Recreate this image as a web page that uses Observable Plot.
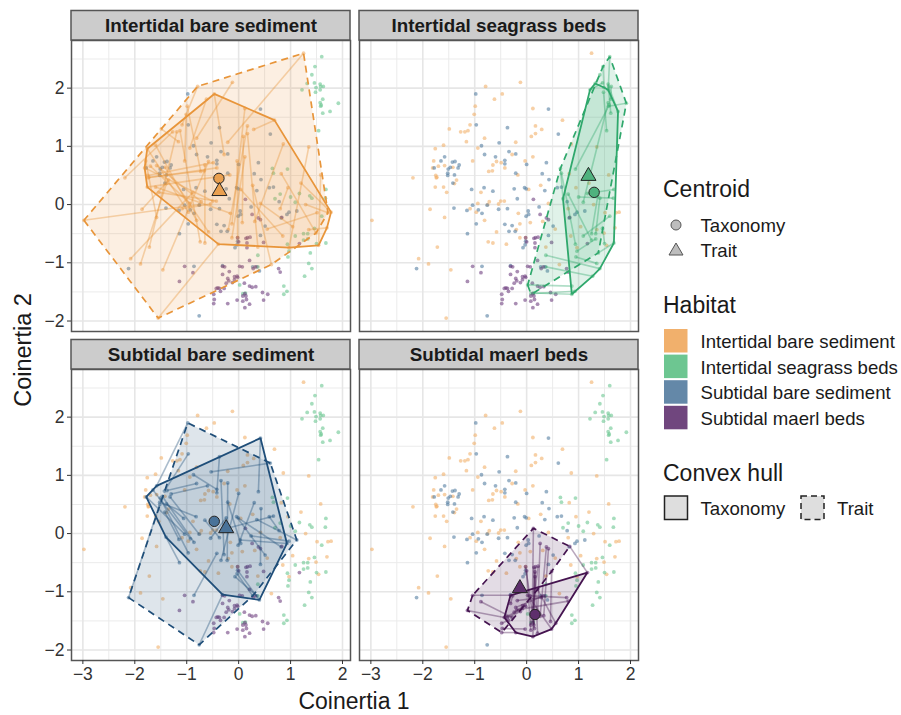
<!DOCTYPE html>
<html>
<head>
<meta charset="utf-8">
<script src="https://cdn.jsdelivr.net/npm/d3@7"></script>
<script src="https://cdn.jsdelivr.net/npm/@observablehq/plot@0.6"></script>
<style>
html,body{margin:0;padding:0;background:#fff;}
#wrap{position:relative;width:901px;height:715px;font-family:"Liberation Sans",Arial,sans-serif;overflow:hidden;}
#wrap>svg{position:absolute;left:0;top:0;}
</style>
</head>
<body>
<div id="wrap"></div>
<script>
const habitatNames = ["Intertidal bare sediment","Intertidal seagrass beds","Subtidal bare sediment","Subtidal maerl beds"];
const lineColors = ["#E8953A","#2FA86C","#1F4E79","#451450"];
const dotColors = ["#F2AE66","#66C48E","#4F7A9E","#6B3A7C"];
const swatchColors = ["#F1B06C","#6DC691","#6488A8","#70467E"];
const centroidColors = ["#EAA050","#4FB27E","#4A7399","#5E2F6C"];
const xTicks = [-3,-2,-1,0,1,2];
const yTicks = [-2,-1,0,1,2];
const xMinor = [-2.5,-1.5,-0.5,0.5,1.5];
const yMinor = [-1.5,-0.5,0.5,1.5,2.5];

const bareTrait = [[-2.98,-.27],[-.79,2.03],[1.25,2.60],[1.72,-.14],[.63,-1.03],[-1.55,-1.95],[-.12,2.10],[-.62,1.81],[-.28,.86],[-.99,1.69],[-1.01,1.55],[-1.49,1.30],[-2.19,.46],[-1.86,-.08],[-1.58,-.22],[-1.72,-.73],[-2.08,-.93],[-1.89,-1.02],[-1.46,-1.12],[-.74,-.64],[-.65,-.66],[.37,-.73],[1.35,.99],[1.58,.51],[-.50,.06],[-.97,-.13],[-.43,.06],[-.54,.01],[.29,1.29],[1.20,.37],[1.35,-.43],[-.81,-.27],[-.94,.02],[-.72,.05],[-.58,-.47],[-.49,.72],[-.66,.58],[-.42,.63],[-.17,.51],[-.16,-.15],[-.13,-.33],[-.20,-.43],[.07,-.31],[.31,-.29],[-.13,-.57],[-.02,-.57],[.85,-.54],[1.04,-.38],[.8,-.07],[1.49,-.49],[.55,-.42]];
const bareTaxon = [[-.75,0],[-1.09,1.37],[-.21,1.07],[1.29,0],[.27,.33],[-.39,-.68],[-.81,1.14],[-.94,.97],[-.47,1.90],[-.73,.57],[-1.04,.75],[-1.16,1.08],[-1.27,1.25],[-1.35,.42],[-1.79,.75],[-1.19,1.25],[-.88,.21],[-1.39,.36],[-.58,.74],[-1.13,1.27],[-.65,.68],[.17,1.22],[.97,-.74],[1.54,-.70],[-1.81,.63],[-1.76,.96],[-1.54,.21],[-1.09,-.07],[.69,1.45],[1.78,-.13],[1.70,-.40],[-1.60,1.02],[-1.70,.66],[-1.58,.67],[-1.42,.64],[-1.75,.50],[-1.73,.47],[-1.74,.46],[-1.76,.30],[-1.60,.30],[.12,1.65],[.17,1.35],[.09,1.17],[.86,1.04],[.12,.82],[-.03,.75],[.04,.26],[.42,.02],[.95,.29],[.82,.53],[1.51,-.14]];

const grassTrait = [[1.60,2.54],[1.92,1.74],[1.47,2.37],[1.41,2.23],[1.46,2.09],[1.48,1.93],[1.57,2.07],[1.58,2.03],[1.63,2.03],[1.57,1.75],[1.59,1.71],[.65,.62],[.67,.54],[.13,-1.52],[.02,-1.38],[.08,-1.53],[.37,-.87],[.37,-1.07],[1.38,-.83],[.95,-.9],[1.17,.19],[1.00,.13],[1.37,.15],[1.41,.11],[.8,.18],[.97,-.80],[1.09,-.54],[1.46,-.41]];
const grassTaxon = [[1.57,1.97],[1.58,1.69],[1.49,2.01],[1.32,2.08],[1.22,1.97],[1.54,1.27],[1.62,1.57],[1.76,1.60],[1.62,1.81],[1.09,.04],[.94,.61],[.70,.10],[.94,-.68],[.87,-1.54],[.87,-1.4],[.93,-1.49],[1.41,-1.10],[1.27,-1.23],[1.68,-.66],[1.35,-1.01],[1.68,.26],[1.67,.11],[1.25,-.5],[1.33,-.5],[1.25,-.61],[1.33,-.59],[1.60,-.2],[1.5,-.67]];

const subTrait = [[-.98,1.90],[-.97,1.37],[-2.12,-1.10],[-.76,-1.91],[.61,1.21],[.38,.72],[-1.14,-.50],[1.12,-.11],[-.86,-1.06],[-.02,-.63],[.27,-1.07],[-.07,-.74],[-1.04,-.01],[-.93,-.09],[-.86,-.15],[-.97,-.33],[-.76,-.01],[-.82,.29],[-1.06,.26],[-1.15,-.10],[.97,-.13],[.03,-.11],[-.37,1.32],[-.81,.86],[-.87,1.01],[-.60,.82],[-.34,.91],[-.21,.87],[0,.69],[-.21,.54],[.30,.53],[.43,.43],[-.65,.23],[-.24,.27],[-.04,.29],[-.01,.27],[.59,.29],[.67,.30]];
const subTaxon = [[-1.58,.82],[-1.43,.73],[-1.52,.50],[-.31,-1.05],[-.53,1.06],[.42,1.64],[-1.40,-.06],[.35,.24],[-.42,-.34],[.40,-1.14],[-.03,-.69],[.35,-1.07],[-1.78,.63],[-1.65,.75],[-1.47,.64],[-1.51,.61],[-1.32,.63],[-1.52,.54],[-1.39,.51],[-1.42,.37],[.24,-.04],[.93,-.17],[-.42,.70],[-1.38,.74],[-.42,.76],[-1.30,.68],[-.28,-.36],[-.22,-.46],[-.34,-.46],[.04,-.17],[-.01,-.2],[.42,-.53],[-.37,-.07],[-.54,-.08],[.51,-.37],[.82,-.23],[.78,.05],[-.18,.1]];

const maerlTrait = [[.13,.09],[.83,-.22],[-1.14,-1.32],[-1.04,-1.06],[-.88,-1.17],[-.48,-1.54],[-.48,-1.70],[-.47,-1.63],[.26,-.17],[.38,-.23],[.42,-.26],[.17,-.57],[.22,-.56],[.14,-.58],[-.02,-.57],[0,-.64],[.16,-.74],[.16,-.66],[.48,-.65],[.21,-.96],[.02,-1.06],[.07,-1.07],[-.31,-1.20],[-.40,-1.43],[-.37,-1.44],[-.18,-1.15],[-.21,-1.27],[-.19,-1.31],[-.24,-1.35],[-.08,-1.24]];
const maerlTaxon = [[.11,-1.35],[1.17,-.67],[-.43,-1.44],[-.31,-1.06],[-.28,-1.44],[-.35,-1.49],[-.21,-1.7],[-.03,-1.64],[.21,-1.4],[.26,-1.42],[.33,-1.41],[.12,-1.53],[.08,-1.57],[.14,-1.57],[.15,-1.63],[.08,-1.66],[.21,-1.71],[.12,-1.77],[.46,-1.51],[.56,-1.54],[.48,-1.64],[.77,-1.1],[-.27,-1.07],[-.08,-1.29],[-.12,-1.34],[.28,-1.1],[.32,-1.07],[.80,-1.16],[-.03,-1.23],[-.02,-1.25]];

const taxonCentroidX = [-.38,1.30,-.47,.16];
const taxonCentroidY = [.45,.21,.21,-1.39];
const traitCentroidX = [-.37,1.19,-.24,-.13];
const traitCentroidY = [.23,.49,.09,-.94];
const panelCols = ["left","right","left","right"];
const panelRows = ["top","top","bottom","bottom"];

const traitSets = [bareTrait,grassTrait,subTrait,maerlTrait];
const taxonSets = [bareTaxon,grassTaxon,subTaxon,maerlTaxon];

const xDomain = [-3.219,2.154];
const yDomain = [-2.18,2.818];
const stripTop = 3.325;

const allDots = [];
traitSets.forEach((set,i)=>{
  set.forEach(p=>allDots.push({x:p[0],y:p[1],h:i}));
  taxonSets[i].forEach(p=>allDots.push({x:p[0],y:p[1],h:i}));
});
const panels = habitatNames.map((name,i)=>({name,i,col:panelCols[i],row:panelRows[i]}));
const inPanel = i => ({fx:()=>panelCols[i], fy:()=>panelRows[i]});
const tickText = d => String(d).replace("-","\u2212");

const marks = [
  Plot.gridX(xMinor,{stroke:"#ebebeb",strokeOpacity:1,strokeWidth:1}),
  Plot.gridY(yMinor,{stroke:"#ebebeb",strokeOpacity:1,strokeWidth:1}),
  Plot.gridX(xTicks,{stroke:"#e6e6e6",strokeOpacity:1,strokeWidth:1.6}),
  Plot.gridY(yTicks,{stroke:"#e6e6e6",strokeOpacity:1,strokeWidth:1.6}),
  Plot.dot(allDots,{x:"x",y:"y",r:1.9,fill:d=>dotColors[d.h],fillOpacity:0.58,stroke:"none"})
];
panels.forEach(({i})=>{
  const c = lineColors[i];
  const links = traitSets[i].map((p,k)=>({x1:p[0],y1:p[1],x2:taxonSets[i][k][0],y2:taxonSets[i][k][1]}));
  marks.push(
    Plot.hull(traitSets[i],{x:d=>d[0],y:d=>d[1],fill:c,fillOpacity:0.15,stroke:c,strokeWidth:1.7,strokeDasharray:"7 5",...inPanel(i)}),
    Plot.hull(taxonSets[i],{x:d=>d[0],y:d=>d[1],fill:c,fillOpacity:0.15,stroke:"none",...inPanel(i)}),
    Plot.link(links,{x1:"x1",y1:"y1",x2:"x2",y2:"y2",stroke:c,strokeOpacity:0.38,strokeWidth:1.6,...inPanel(i)}),
    Plot.hull(taxonSets[i],{x:d=>d[0],y:d=>d[1],fill:"none",stroke:c,strokeWidth:1.8,...inPanel(i)}),
    Plot.dot([i],{x:k=>taxonCentroidX[k],y:k=>taxonCentroidY[k],symbol:"circle",r:5.2,fill:centroidColors[i],stroke:"#222",strokeWidth:1,...inPanel(i)}),
    Plot.dot([i],{x:k=>traitCentroidX[k],y:k=>traitCentroidY[k],symbol:"triangle",r:5.6,fill:centroidColors[i],stroke:"#222",strokeWidth:1,...inPanel(i)})
  );
});
marks.push(
  Plot.frame({stroke:"#555",strokeWidth:1.5,fill:"none"}),
  Plot.rect(panels,{x1:()=>xDomain[0],x2:()=>xDomain[1],y1:()=>yDomain[1],y2:()=>stripTop,fill:"#cccccc",stroke:"#555",strokeWidth:1.5,fx:"col",fy:"row",clip:false}),
  Plot.text(panels,{x:()=>(xDomain[0]+xDomain[1])/2,y:()=>(yDomain[1]+stripTop)/2,text:"name",fontSize:18.8,fontWeight:"bold",fill:"#1a1a1a",fx:"col",fy:"row",clip:false}),
  Plot.axisX(xTicks,{anchor:"bottom",tickSize:4,tickPadding:3,fontSize:17.5,label:null,color:"#333",stroke:"#333",tickFormat:tickText}),
  Plot.axisY(yTicks,{anchor:"left",tickSize:4,tickPadding:3,fontSize:17.5,label:null,color:"#333",stroke:"#333",tickFormat:tickText})
);

const chart = Plot.plot({
  width:901,height:715,
  marginLeft:71.3,marginRight:262.3,marginTop:39,marginBottom:54.4,
  style:{fontFamily:'"Liberation Sans",Arial,sans-serif',background:"transparent",overflow:"visible"},
  x:{domain:xDomain,axis:null},
  y:{domain:yDomain,axis:null},
  fx:{domain:["left","right"],axis:null,paddingInner:0.0299,paddingOuter:0},
  fy:{domain:["top","bottom"],axis:null,paddingInner:0.1155,paddingOuter:0},
  marks
});
const wrap = document.getElementById("wrap");
wrap.appendChild(chart);

// Titles and legend, placed to the side of the panels
const ns = "http://www.w3.org/2000/svg";
const over = document.createElementNS(ns,"svg");
over.setAttribute("width",901);over.setAttribute("height",715);
over.setAttribute("font-family",'"Liberation Sans",Arial,sans-serif');
const add = (tag,attrs,text)=>{const e=document.createElementNS(ns,tag);for(const k in attrs)e.setAttribute(k,attrs[k]);if(text)e.textContent=text;over.appendChild(e);return e;};
const label = (x,y,size,t)=>add("text",{x,y,"font-size":size,fill:"#1a1a1a"},t);
add("text",{x:354,y:708.5,"font-size":23,fill:"#1a1a1a","text-anchor":"middle"},"Coinertia 1");
add("text",{transform:"translate(31,350) rotate(-90)","font-size":23.5,fill:"#1a1a1a","text-anchor":"middle"},"Coinertia 2");
label(663,197,23,"Centroid");
add("circle",{cx:676,cy:225,r:5,fill:"#bdbdbd",stroke:"#555","stroke-width":1});
label(700.5,231.5,18.6,"Taxonomy");
add("path",{d:"M676 243 L683 255 L669 255 Z",fill:"#bdbdbd",stroke:"#555","stroke-width":1});
label(700.5,257,18.6,"Trait");
label(663,313,23,"Habitat");
habitatNames.forEach((n,i)=>{
  add("rect",{x:664,y:329+25.6*i,width:23.5,height:23.5,fill:swatchColors[i]});
  label(700.5,348+25.6*i,18.6,n);
});
label(663,481,23,"Convex hull");
add("rect",{x:664.5,y:496,width:23,height:23.5,fill:"#dedede",stroke:"#222","stroke-width":1.5});
label(700.5,515,18.6,"Taxonomy");
add("rect",{x:801,y:496,width:23,height:23.5,fill:"#dedede",stroke:"#222","stroke-width":1.5,"stroke-dasharray":"6 4"});
label(837,515,18.6,"Trait");
wrap.appendChild(over);
</script>
</body>
</html>
